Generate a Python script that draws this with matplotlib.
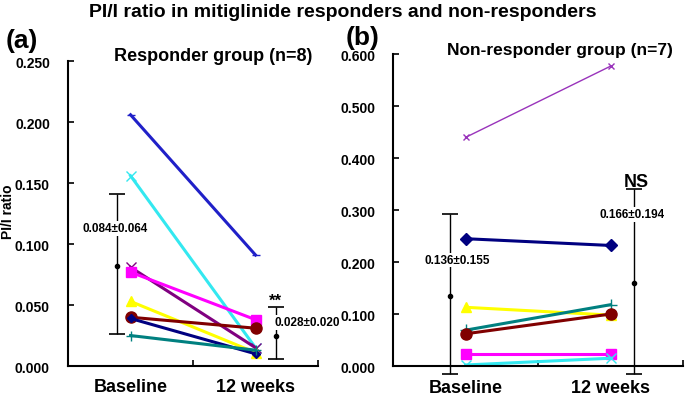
import matplotlib
matplotlib.use('Agg')
import matplotlib.pyplot as plt

plt.rcParams['font.family'] = ['Liberation Sans', 'DejaVu Sans']
plt.rcParams['font.weight'] = 'bold'

groups = ['Baseline', '12 weeks']

# responder group (a): baseline, 12 weeks
resp_blue = [0.206, 0.091]
resp_cyan = [0.156, 0.015]
resp_purple = [0.081, 0.015]
resp_magenta = [0.077, 0.038]
resp_yellow = [0.053, 0.011]
resp_darkred = [0.040, 0.031]
resp_navy = [0.039, 0.010]
resp_teal = [0.025, 0.013]

# error bars (mean, lower end, upper end) as drawn
resp_err_mean = [0.082, 0.025]
resp_err_low = [0.026, 0.006]
resp_err_high = [0.141, 0.048]
resp_labels = ['0.084±0.064', '0.028±0.020']

# non-responder group (b)
non_purple = [0.440, 0.577]
non_navy = [0.245, 0.232]
non_yellow = [0.113, 0.098]
non_teal = [0.069, 0.118]
non_darkred = [0.062, 0.100]
non_magenta = [0.023, 0.023]
non_cyan = [0.002, 0.015]

non_err_mean = [0.135, 0.160]
non_err_low = [-0.015, -0.015]
non_err_high = [0.292, 0.340]
non_labels = ['0.136±0.155', '0.166±0.194']

xpos = [0.5, 1.5]
errx = [0.39, 1.66]


def setup(ax, ymax, step):
    ax.set_xlim(0, 2)
    ax.set_ylim(0, ymax)
    ax.spines['top'].set_visible(False)
    ax.spines['right'].set_visible(False)
    ax.spines['left'].set_linewidth(1.5)
    ax.spines['bottom'].set_linewidth(1.5)
    ax.set_xticks([0, 1, 2])
    ax.set_xticklabels([])
    ticks = [i * step for i in range(int(round(ymax / step)) + 1)]
    ax.set_yticks(ticks)
    ax.set_yticklabels(['%.3f' % t for t in ticks], fontsize=10, fontweight='bold')
    ax.tick_params(direction='in', length=4, width=1.2)
    ax.tick_params(axis='y', pad=13)
    for x, g in zip(xpos, groups):
        ax.text(x, -0.068 * ymax, g, ha='center', va='center', fontsize=13,
                fontweight='bold', clip_on=False)


def errbars(ax, mean, low, high):
    for x, m, lo, hi in zip(errx, mean, low, high):
        ax.errorbar([x], [m], yerr=[[m - lo], [hi - m]], fmt='o', ms=3,
                    color='black', ecolor='black', elinewidth=1, capsize=6,
                    capthick=1.2, clip_on=False, zorder=1)


fig = plt.figure(figsize=(6.85, 4.06), dpi=100)
ax1 = fig.add_axes([0.0993, 0.096, 0.365, 0.751])
ax2 = fig.add_axes([0.574, 0.096, 0.423, 0.768])

# (a)
setup(ax1, 0.25, 0.05)
errbars(ax1, resp_err_mean, resp_err_low, resp_err_high)
lw = 2.2
ax1.plot(xpos, resp_blue, color='#2020c8', lw=lw, marker='_', ms=6)
ax1.plot(xpos, resp_cyan, color='#33e8f0', lw=lw, marker='x', ms=7)
ax1.plot(xpos, resp_purple, color='#800080', lw=lw, marker='x', ms=7)
ax1.plot(xpos, resp_magenta, color='#ff00ff', lw=lw, marker='s', ms=7)
ax1.plot(xpos, resp_yellow, color='#ffff00', lw=lw, marker='^', ms=7)
ax1.plot(xpos, resp_darkred, color='#800000', lw=lw, marker='o', ms=8)
ax1.plot(xpos, resp_navy, color='#000080', lw=lw, marker='D', ms=4)
ax1.plot(xpos, resp_teal, color='#008080', lw=lw, marker='+', ms=7)
ax1.text(0.376, 0.113, resp_labels[0], ha='center', va='center', fontsize=8.5,
         fontweight='bold', bbox=dict(facecolor='white', edgecolor='none', pad=1))
ax1.text(1.91, 0.036, resp_labels[1], ha='center', va='center', fontsize=8.5,
         fontweight='bold', bbox=dict(facecolor='white', edgecolor='none', pad=1),
         clip_on=False)
ax1.text(1.66, 0.054, '**', ha='center', va='center', fontsize=12, fontweight='bold')

# (b)
setup(ax2, 0.6, 0.1)
errbars(ax2, non_err_mean, non_err_low, non_err_high)
ax2.plot(xpos, non_purple, color='#9933bb', lw=1, marker='x', ms=4)
ax2.plot(xpos, non_navy, color='#000080', lw=lw, marker='D', ms=6)
ax2.plot(xpos, non_yellow, color='#ffff00', lw=lw, marker='^', ms=7)
ax2.plot(xpos, non_teal, color='#008080', lw=lw, marker='+', ms=8)
ax2.plot(xpos, non_darkred, color='#800000', lw=lw, marker='o', ms=8)
ax2.plot(xpos, non_magenta, color='#ff00ff', lw=lw, marker='s', ms=7)
ax2.plot(xpos, non_cyan, color='#33e8f0', lw=lw, marker='x', ms=7)
ax2.text(0.44, 0.204, non_labels[0], ha='center', va='center', fontsize=8.5,
         fontweight='bold', bbox=dict(facecolor='white', edgecolor='none', pad=1))
ax2.text(1.65, 0.292, non_labels[1], ha='center', va='center', fontsize=8.5,
         fontweight='bold', bbox=dict(facecolor='white', edgecolor='none', pad=1))
ax2.text(1.68, 0.355, 'NS', ha='center', va='center', fontsize=13, fontweight='bold')

fig.text(0.5, 0.97, 'PI/I ratio in mitiglinide responders and non-responders',
         ha='center', va='center', fontsize=14, fontweight='bold')
fig.text(0.008, 0.9, '(a)', ha='left', va='center', fontsize=19, fontweight='bold')
fig.text(0.505, 0.906, '(b)', ha='left', va='center', fontsize=19, fontweight='bold')
fig.text(0.311, 0.86, 'Responder group (n=8)', ha='center', va='center',
         fontsize=13, fontweight='bold')
fig.text(0.818, 0.875, 'Non-responder group (n=7)', ha='center', va='center',
         fontsize=12.5, fontweight='bold')
fig.text(0.012, 0.478, 'PI/I ratio', ha='center', va='center', rotation=90,
         fontsize=10, fontweight='bold')

fig.savefig('out.png', dpi=100)
